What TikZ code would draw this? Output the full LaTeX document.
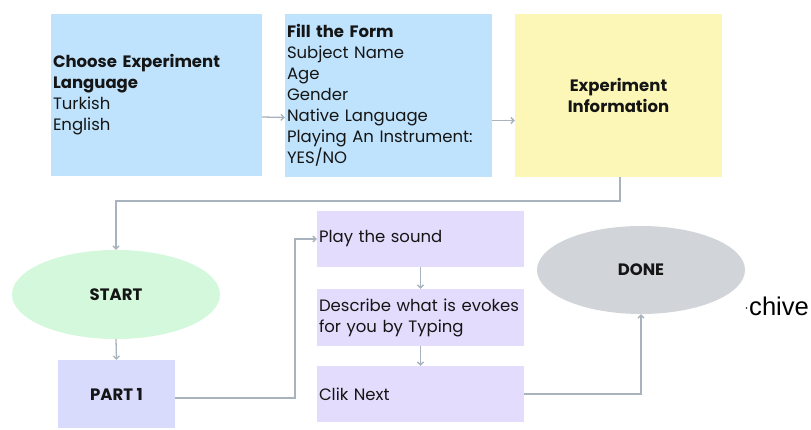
\documentclass[tikz,border=0pt]{standalone}
\usepackage{fontspec}
\setmainfont{Poppins}
\newfontfamily\archfont{Liberation Sans}
\usetikzlibrary{arrows.meta,shapes.geometric}

\definecolor{blueFill}{HTML}{BFE3FD}
\definecolor{yellowFill}{HTML}{FCF7B6}
\definecolor{greenFill}{HTML}{D3F8DC}
\definecolor{partFill}{HTML}{D9DBFD}
\definecolor{stepFill}{HTML}{E3DCFC}
\definecolor{doneFill}{HTML}{D1D5DA}
\definecolor{lineGray}{HTML}{A8B3BD}
\definecolor{inkText}{HTML}{151515}

\tikzset{
  txt/.style={font=\fontsize{16.5}{21}\selectfont, text=inkText},
  box/.style={rectangle, draw=none, inner sep=0pt, txt},
  leftbox/.style={box, align=left, text width=#1, inner xsep=2pt},
  oval/.style={ellipse, draw=none, inner sep=0pt, txt},
  arr/.style={draw=lineGray, line width=1.3pt,
    -{Straight Barb[length=3pt,width=6pt]}},
}

\begin{document}
\begin{tikzpicture}[x=1pt, y=-1pt]
  \useasboundingbox (0,0) rectangle (811,430);

  % top row
  \node[leftbox=207pt, fill=blueFill, minimum width=211pt, minimum height=162pt]
    (lang) at (156.5,95) {\textbf{Choose Experiment}\\\textbf{Language}\\Turkish\\English};
  \node[leftbox=203pt, fill=blueFill, minimum width=207pt, minimum height=163pt]
    (form) at (388.5,95.5) {\textbf{Fill the Form}\\Subject Name\\Age\\Gender\\Native Language\\Playing An Instrument:\\YES/NO};
  \node[box, align=center, fill=yellowFill, minimum width=207pt, minimum height=163pt]
    (info) at (618.5,95.5) {\textbf{Experiment}\\\textbf{Information}};

  % left column
  \node[oval, fill=greenFill, minimum width=208pt, minimum height=89pt]
    (start) at (116,294.5) {\textbf{START}};
  \node[box, fill=partFill, minimum width=117pt, minimum height=68pt]
    (part) at (116.5,394) {\textbf{PART 1}};

  % part 1 steps
  \node[leftbox=203pt, fill=stepFill, minimum width=207pt, minimum height=56pt]
    (play) at (420.5,239) {Play the sound};
  \node[leftbox=203pt, fill=stepFill, minimum width=207pt, minimum height=57pt]
    (desc) at (420.5,317.5) {Describe what is evokes\\for you by Typing};
  \node[leftbox=203pt, fill=stepFill, minimum width=207pt, minimum height=56pt]
    (next) at (420.5,394) {Clik Next};

  % end
  \node[oval, fill=doneFill, minimum width=208pt, minimum height=88pt]
    (done) at (641,270) {\textbf{DONE}};

  % label fragment at the right edge
  \node[anchor=base west, inner sep=0pt, font=\archfont\fontsize{25.6}{30}\selectfont]
    (archive) at (749,316) {chive};
  \fill[inkText] (archive.base west) ++(-2.5,-8) circle[radius=0.8];

  % connectors
  \coordinate (loopTurn) at (116,201);
  \coordinate (partTurn) at (295,239);

  \draw[arr] ([yshift=-22pt]lang.east) -- ([yshift=-22pt]form.west);
  \draw[arr] ([yshift=-25pt]form.east) -- ([yshift=-25pt]info.west);
  \draw[arr] ([xshift=1.5pt]info.south) |- (loopTurn) -- (start.north);
  \draw[arr] (start.south) -- (part.north);
  \draw[arr] ([yshift=-4pt]part.east) -| (partTurn) -- (play.west);
  \draw[arr] (play.south) -- (desc.north);
  \draw[arr] (desc.south) -- (next.north);
  \draw[arr] (next.east) -| (done.south);
\end{tikzpicture}
\end{document}
